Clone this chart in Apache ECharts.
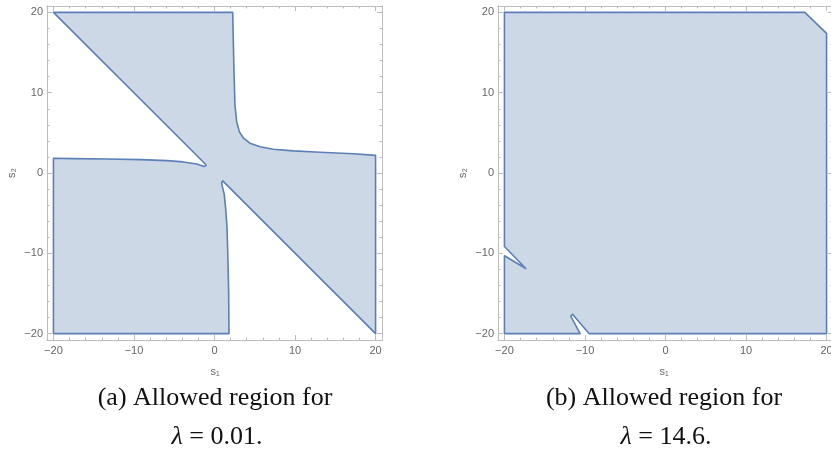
<!DOCTYPE html>
<html>
<head>
<meta charset="utf-8">
<script src="https://cdn.jsdelivr.net/npm/echarts@6/dist/echarts.min.js"></script>
<style>
  html, body { margin: 0; padding: 0; background: #fff; }
  #chart { width: 831px; height: 461px; }
</style>
</head>
<body>
<div id="chart"></div>
<script>
// Boundary of the allowed region for lambda = 0.01 (s1, s2 pairs, traced counter-clockwise)
const regionSmall_s1 = [-20, -1.15, -1.03, -1.3, -2.2, -3.9, -5.9, -9.2, -13.4, -17.5, -20,
  -20, 1.8, 1.76, 1.67, 1.55, 1.4, 1.2, 0.95, 0.9, 1.02,
  20, 20, 17.2, 13.1, 9.8, 7.3, 5.65, 4.4, 3.6, 3.08, 2.75, 2.54, 2.42, 2.33, 2.26];
const regionSmall_s2 = [20, 1.12, 0.95, 0.82, 1.13, 1.38, 1.54, 1.67, 1.75, 1.79, 1.84,
  -20, -20, -15, -10.8, -6.7, -4.6, -2.6, -1.6, -1.2, -0.98,
  -20, 2.2, 2.4, 2.59, 2.75, 2.96, 3.28, 3.71, 4.33, 5.15, 6.4, 8.5, 12.6, 16.8, 20];

// Boundary of the allowed region for lambda = 14.6
const regionLarge_s1 = [-20, 17.3, 20, 20, -9.5, -11.55, -11.75, -10.6, -20, -20, -17.35, -20];
const regionLarge_s2 = [20, 20, 17.4, -20, -20, -17.6, -17.85, -20, -20, -10.3, -11.9, -9.15];

// Axis ticks
const majorTicks = [-20, -10, 0, 10, 20];
const minorTicks = [-18, -16, -14, -12, -8, -6, -4, -2, 2, 4, 6, 8, 12, 14, 16, 18];

// Captions
const captionLines = ['Allowed region for', 'Allowed region for'];
const captionTags = ['(a)', '(b)'];
const lambdaValues = ['0.01', '14.6'];

const FRAME = '#bcbcbc';
const LABEL = '#666666';
const FILL = '#cdd8e7';
const EDGE = '#5b7fb6';
const RANGE = 20.8;

const grids = [
  { left: 47, top: 6, width: 335, height: 334, outerBoundsMode: 'none', containLabel: false },
  { left: 498, top: 6, width: 335, height: 334, outerBoundsMode: 'none', containLabel: false }
];

const fmt = v => String(v).replace('-', '\u2212');

function makeAxis(kind, gridIndex, position, ticks, len, withLabels) {
  return {
    type: 'value',
    gridIndex: gridIndex,
    position: position,
    min: -RANGE,
    max: RANGE,
    axisLine: { show: true, onZero: false, lineStyle: { color: FRAME, width: 1 } },
    axisTick: { show: true, inside: true, length: len, customValues: ticks,
      lineStyle: { color: FRAME, width: 1 } },
    axisLabel: withLabels ? {
      show: true, customValues: ticks, formatter: fmt, color: LABEL,
      fontFamily: 'Liberation Sans', fontSize: 11, margin: kind === 'x' ? 5 : 4
    } : { show: false },
    splitLine: { show: false }
  };
}

const xAxes = [], yAxes = [];
grids.forEach((g, gi) => {
  xAxes.push(makeAxis('x', gi, 'bottom', majorTicks, 5, true));
  xAxes.push(makeAxis('x', gi, 'bottom', minorTicks, 2.5, false));
  xAxes.push(makeAxis('x', gi, 'top', majorTicks, 5, false));
  xAxes.push(makeAxis('x', gi, 'top', minorTicks, 2.5, false));
  yAxes.push(makeAxis('y', gi, 'left', majorTicks, 5, true));
  yAxes.push(makeAxis('y', gi, 'left', minorTicks, 2.5, false));
  yAxes.push(makeAxis('y', gi, 'right', majorTicks, 5, false));
  yAxes.push(makeAxis('y', gi, 'right', minorTicks, 2.5, false));
});

function regionSeries(gi, xs, ys) {
  return {
    type: 'custom',
    xAxisIndex: gi * 4,
    yAxisIndex: gi * 4,
    clip: false,
    silent: true,
    data: xs.map((x, i) => [x, ys[i]]),
    encode: { x: 0, y: 1 },
    renderItem: function (params, api) {
      if (params.dataIndex !== 0) return null;
      const pts = xs.map((x, i) => api.coord([x, ys[i]]));
      return {
        type: 'polygon',
        shape: { points: pts },
        style: { fill: FILL, stroke: EDGE, lineWidth: 1.6, lineJoin: 'round' }
      };
    }
  };
}

const centers = [215, 664];
const graphic = [];
centers.forEach((cx, i) => {
  graphic.push({
    type: 'text', x: cx, y: 372,
    style: { text: 's\u2081', fill: LABEL, font: '11px "Liberation Sans"', align: 'center', verticalAlign: 'middle' }
  });
  graphic.push({
    type: 'text', x: i === 0 ? 12 : 463, y: 173, rotation: Math.PI / 2,
    style: { text: 's\u2082', fill: LABEL, font: '11px "Liberation Sans"', align: 'center', verticalAlign: 'middle' }
  });
  graphic.push({
    type: 'text', x: cx, y: 398,
    style: { text: captionTags[i] + ' ' + captionLines[i], fill: '#111',
      font: '26px "Liberation Serif"', align: 'center', verticalAlign: 'middle' }
  });
  graphic.push({
    type: 'text', x: cx + 2, y: 437,
    style: {
      text: '{i|\u03bb} = ' + lambdaValues[i] + '.',
      fill: '#111', font: '26px "Liberation Serif"', align: 'center', verticalAlign: 'middle',
      rich: { i: { fontStyle: 'italic', fontFamily: 'Liberation Serif', fontSize: 26, fill: '#111' } }
    }
  });
});

const chart = echarts.init(document.getElementById('chart'), null, { renderer: 'canvas' });
chart.setOption({
  animation: false,
  backgroundColor: '#ffffff',
  grid: grids,
  xAxis: xAxes,
  yAxis: yAxes,
  series: [
    regionSeries(0, regionSmall_s1, regionSmall_s2),
    regionSeries(1, regionLarge_s1, regionLarge_s2)
  ],
  graphic: graphic
});
</script>
</body>
</html>
